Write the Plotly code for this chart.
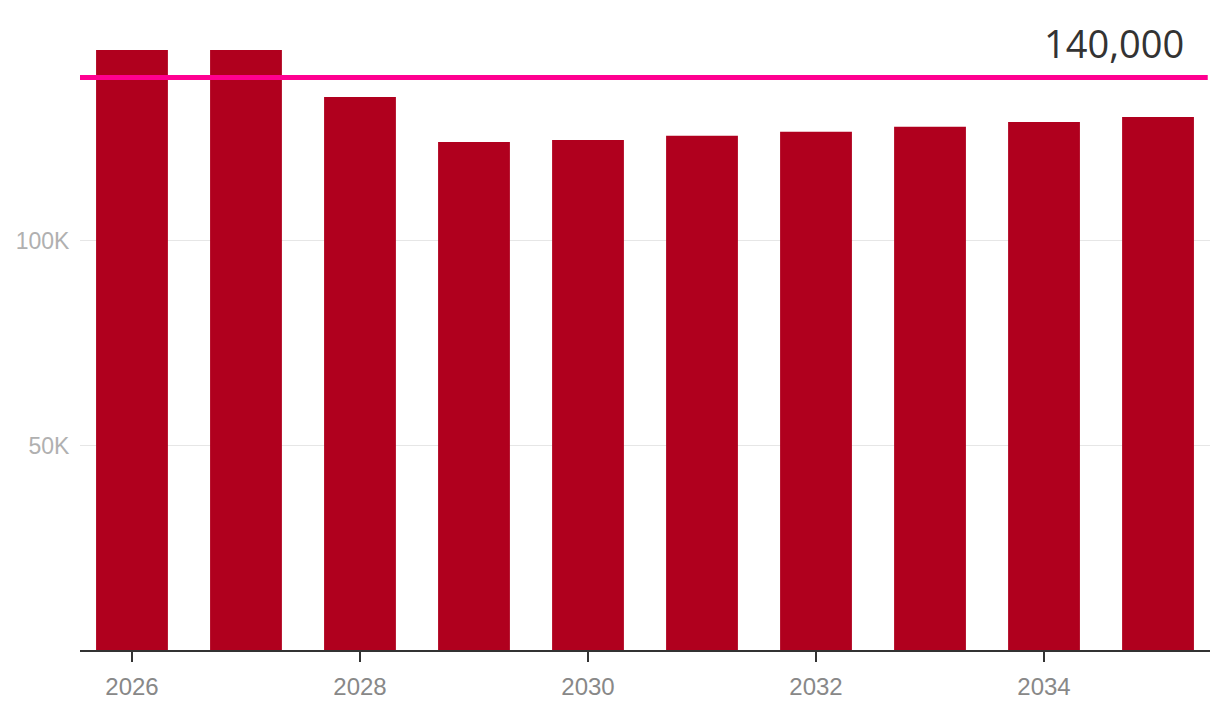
import plotly.graph_objects as go

years = [2026, 2027, 2028, 2029, 2030, 2031, 2032, 2033, 2034, 2035]
values = [146700, 146700, 135200, 124200, 124700, 125700, 126700, 127900, 129100, 130300]
target = 140000
target_label = "140,000"
x_tickvals = [2026, 2028, 2030, 2032, 2034]
y_tickvals = [50000, 100000]
y_ticktext = ["50K", "100K"]

fig = go.Figure()
fig.add_trace(go.Bar(x=years, y=values, marker_color="#b0001e", width=0.63,
                     marker_line_width=0, hoverinfo="skip"))

fig.add_shape(type="line", xref="paper", yref="y", x0=0, x1=0.998,
              y0=target, y1=target, line=dict(color="#ff0090", width=5))
fig.add_annotation(xref="paper", yref="y", x=0.979, y=target, text=target_label,
                   showarrow=False, xanchor="right", yanchor="bottom", yshift=6,
                   font=dict(family="Open Sans", size=38, color="#333333"))

fig.update_layout(
    width=1212, height=710,
    margin=dict(l=72, r=10, t=12, b=68),
    plot_bgcolor="white", paper_bgcolor="white",
    showlegend=False,
    font=dict(family="Liberation Sans"),
    xaxis=dict(range=[2025.544, 2035.456], tickvals=x_tickvals,
               ticks="outside", ticklen=10, tickwidth=2, tickcolor="#333333",
               showline=True, linecolor="#333333", linewidth=2, showgrid=False,
               tickfont=dict(family="Liberation Sans", size=24, color="#888888"),
               zeroline=False, ticklabelstandoff=4, automargin=False),
    yaxis=dict(range=[0, 154030], tickvals=y_tickvals, ticktext=y_ticktext,
               showgrid=True, gridcolor="#e6e6e6", gridwidth=1, zeroline=False,
               tickfont=dict(family="Liberation Sans", size=23, color="#b0b0b0"),
               ticks="outside", ticklen=5, tickcolor="rgba(0,0,0,0)",
               showline=False, automargin=False),
)

fig.write_html("out.html")
